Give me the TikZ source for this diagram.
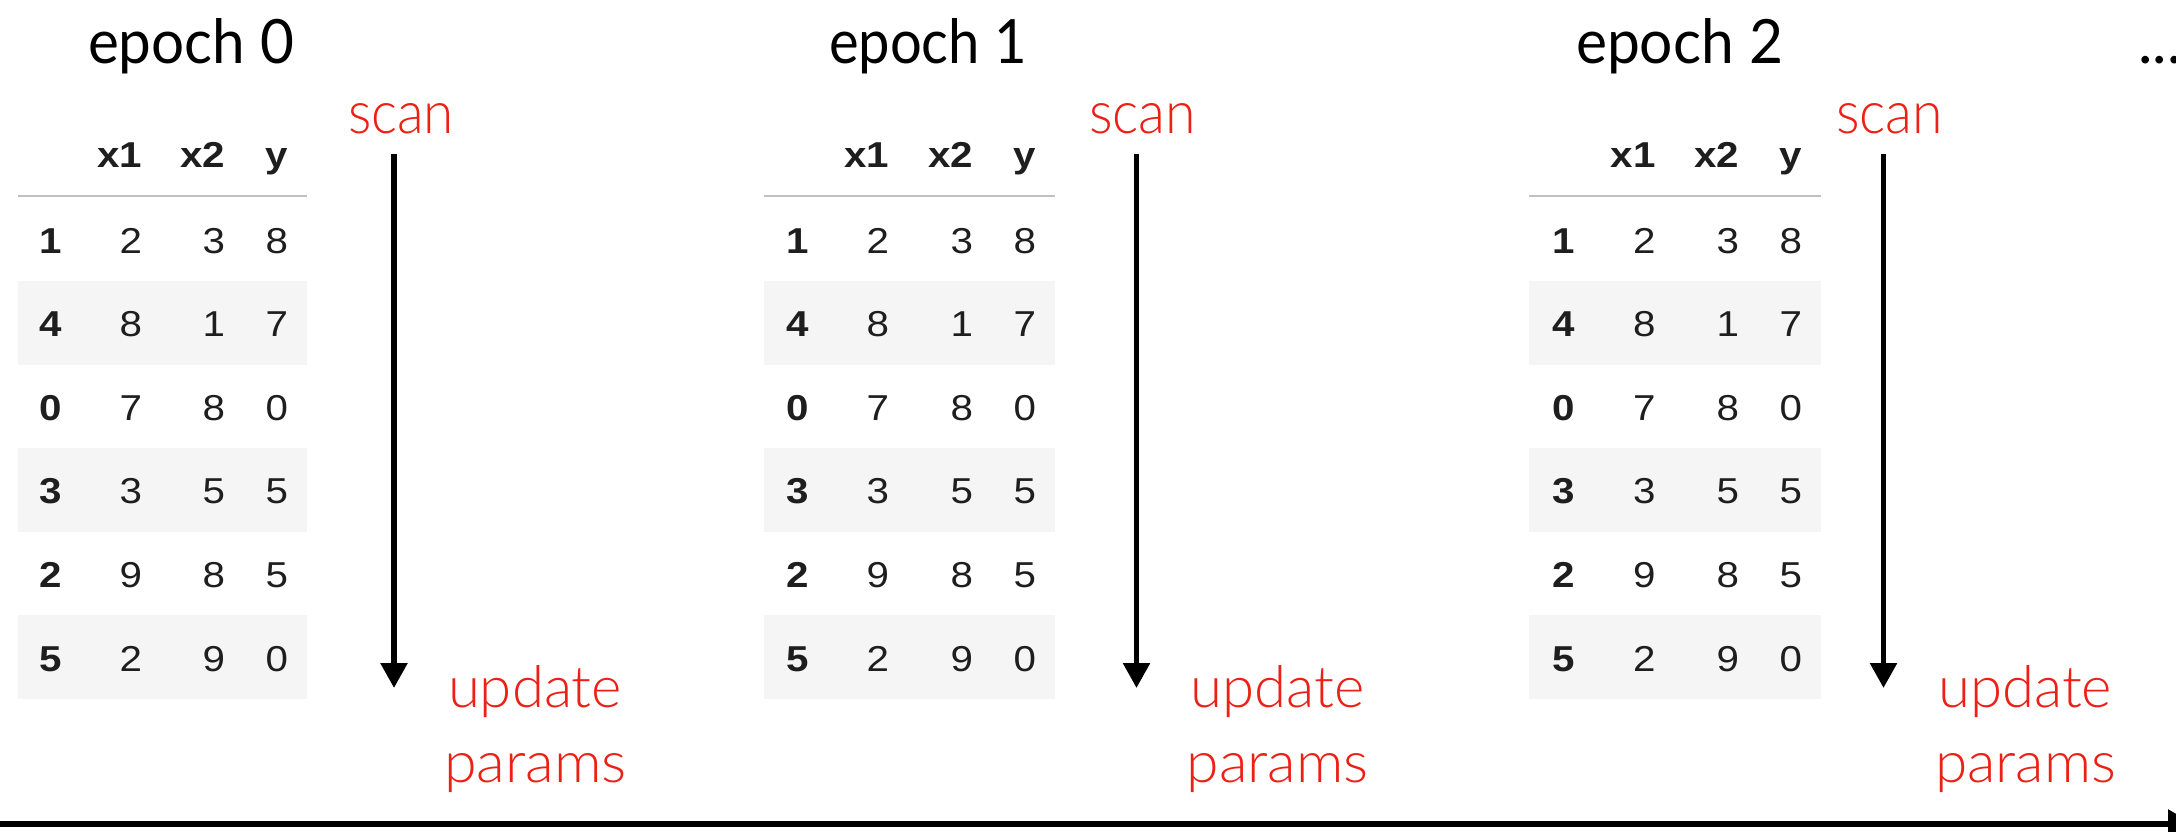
\documentclass[tikz,border=0pt]{standalone}
\usepackage{fontspec}
\usepackage{graphicx}
\usetikzlibrary{arrows.meta}
\setmainfont{Lato}
\newfontfamily\lightfont{Lato Light}
\newfontfamily\tabfont{Liberation Sans}
\definecolor{redtxt}{RGB}{236,32,20}
\definecolor{bandgray}{RGB}{245,245,245}
\definecolor{rulegray}{RGB}{192,192,192}
\definecolor{cellink}{RGB}{30,30,30}
\newcommand{\fitto}[3]{\resizebox{#1pt}{#2pt}{#3}}
\tikzset{
  cell/.style={anchor=base east, inner sep=0pt, outer sep=0pt,
    font=\tabfont\fontsize{36}{36}\selectfont, text=cellink},
  hdr/.style={cell, font=\tabfont\bfseries\fontsize{36}{36}\selectfont},
  epochlbl/.style={anchor=base west, inner sep=0pt, outer sep=0pt, text=black},
  redlbl/.style={anchor=base west, inner sep=0pt, outer sep=0pt, text=redtxt, font=\lightfont},
  scanarrow/.style={line width=5.5pt, -{Triangle[width=26pt,length=25pt]}},
  timearrow/.style={line width=5.5pt, -{Triangle[width=28pt,length=26pt]}},
}
% #1 id, #2 left, #3 right, #4 index col, #5 x1 col, #6 x2 col, #7 y col, #8 hscale
\newcommand{\dtable}[8]{%
  \fill[bandgray] (#2,281) rectangle (#3,364.5);
  \fill[bandgray] (#2,448) rectangle (#3,531.5);
  \fill[bandgray] (#2,615) rectangle (#3,699);
  \draw[rulegray, line width=2pt] (#2,196) -- (#3,196);
  \node[hdr] (#1-h1) at (#5,167) {\scalebox{#8}[1]{x1}};
  \node[hdr] (#1-h2) at (#6,167) {\scalebox{#8}[1]{x2}};
  \node[hdr] (#1-h3) at (#7,167) {\scalebox{#8}[1]{y}};
  \foreach \i/\ix/\va/\vb/\vc in {1/1/2/3/8, 2/4/8/1/7, 3/0/7/8/0, 4/3/3/5/5, 5/2/9/8/5, 6/5/2/9/0}{
    \pgfmathsetmacro{\yb}{253+83.6*(\i-1)}
    \node[hdr] (#1-r\i-i) at (#4,\yb) {\scalebox{#8}[1]{\ix}};
    \node[cell] (#1-r\i-a) at (#5,\yb) {\scalebox{#8}[1]{\va}};
    \node[cell] (#1-r\i-b) at (#6,\yb) {\scalebox{#8}[1]{\vb}};
    \node[cell] (#1-r\i-c) at (#7,\yb) {\scalebox{#8}[1]{\vc}};
  }%
}
\begin{document}
\begin{tikzpicture}[x=1pt, y=-1pt]
\useasboundingbox (0,0) rectangle (2176,831);

% tables
\dtable{t0}{17.5}{306.5}{61.5}{142}{225}{288}{1.12}
\dtable{t1}{764}{1054.5}{808.5}{889}{973}{1036}{1.12}
\dtable{t2}{1529}{1821}{1575}{1655.5}{1739}{1802}{1.12}

% epoch labels
\node[epochlbl] (e0) at (88,63) {\fitto{206}{45}{epoch 0}};
\node[epochlbl] (e1) at (829,63) {\fitto{198}{45}{epoch 1}};
\node[epochlbl] (e2) at (1576,63) {\fitto{207}{45}{epoch 2}};
\node[anchor=base west, inner sep=0pt, font=\fontsize{61}{61}\selectfont] (dots) at (2138,63) {...};

% scan labels
\node[redlbl] (s0) at (348,133) {\fitto{106}{30}{scan}};
\node[redlbl] (s1) at (1089,133) {\fitto{107}{30}{scan}};
\node[redlbl] (s2) at (1836,133) {\fitto{107}{30}{scan}};

% update params labels
\node[redlbl] (u0) at (448,707) {\fitto{174}{42}{update}};
\node[redlbl] (p0) at (444,782) {\fitto{183}{29}{params}};
\node[redlbl] (u1) at (1190.5,707) {\fitto{174}{42}{update}};
\node[redlbl] (p1) at (1186.5,782) {\fitto{182}{29}{params}};
\node[redlbl] (u2) at (1938,707) {\fitto{174}{42}{update}};
\node[redlbl] (p2) at (1935,782) {\fitto{181}{29}{params}};

% scan arrows
\coordinate (a0s) at (394,154); \coordinate (a0e) at (394,688);
\coordinate (a1s) at (1136.5,154); \coordinate (a1e) at (1136.5,688);
\coordinate (a2s) at (1883.5,154); \coordinate (a2e) at (1883.5,688);
\draw[scanarrow] (a0s) -- (a0e);
\draw[scanarrow] (a1s) -- (a1e);
\draw[scanarrow] (a2s) -- (a2e);

% time axis
\coordinate (tstart) at (0,824); \coordinate (tend) at (2194,824);
\draw[timearrow] (tstart) -- (tend);
\end{tikzpicture}
\end{document}
